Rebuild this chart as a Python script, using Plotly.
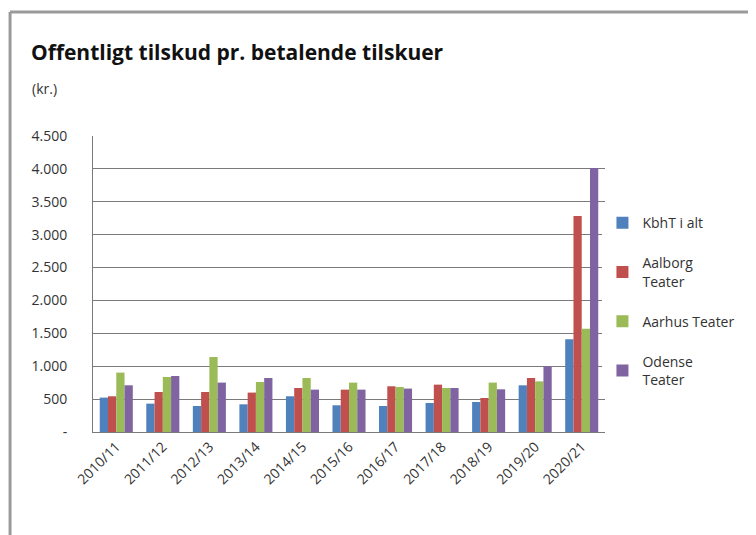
import plotly.graph_objects as go

# Sæsoner
seasons = ["2010/11", "2011/12", "2012/13", "2013/14", "2014/15", "2015/16",
           "2016/17", "2017/18", "2018/19", "2019/20", "2020/21"]

# Offentligt tilskud pr. betalende tilskuer (kr.)
kbht = [523, 431, 395, 421, 543, 406, 395, 441, 456, 710, 1409]
aalborg = [543, 608, 608, 599, 669, 644, 695, 720, 517, 821, 3283]
aarhus = [903, 836, 1140, 760, 821, 751, 684, 669, 751, 770, 1571]
odense = [710, 851, 751, 821, 644, 644, 660, 669, 649, 998, 4012]

series_names = ["KbhT i alt", "Aalborg<br>Teater", "Aarhus Teater", "Odense<br>Teater"]
series_colors = ["#4F81BD", "#C0504D", "#9BBB59", "#8064A2"]

y_ticks = [0, 500, 1000, 1500, 2000, 2500, 3000, 3500, 4000, 4500]
y_ticktext = ["-", "500", "1.000", "1.500", "2.000", "2.500", "3.000", "3.500", "4.000", "4.500"]

fig = go.Figure()
for i, (name, vals, col) in enumerate(zip(series_names, [kbht, aalborg, aarhus, odense], series_colors)):
    fig.add_trace(go.Bar(x=seasons, y=vals, name=name, marker_color=col,
                         marker_line_width=0, legendgroup=str(i)))

# ramme omkring diagrammet (kun top og venstre synlig)
fig.add_shape(type="line", xref="paper", yref="paper", x0=-0.162, x1=1.3,
              y0=1.419, y1=1.419, line=dict(color="#9a9a9a", width=3))
fig.add_shape(type="line", xref="paper", yref="paper", x0=-0.162, x1=-0.162,
              y0=-0.5, y1=1.419, line=dict(color="#9a9a9a", width=3))

fig.add_annotation(text="<b>Offentligt tilskud pr. betalende tilskuer</b>", xref="paper", yref="paper",
                   x=-0.125, y=1.284, xanchor="left", yanchor="middle", showarrow=False,
                   font=dict(family="Open Sans", size=21, color="#111111"))
fig.add_annotation(text="(kr.)", xref="paper", yref="paper",
                   x=-0.123, y=1.162, xanchor="left", yanchor="middle", showarrow=False,
                   font=dict(size=14, color="#333333"))

# sidens body-margin er 8px, så figuren gøres 8px mindre
fig.update_layout(
    width=748, height=527,
    margin=dict(l=85, r=151, t=128, b=103),
    plot_bgcolor="white", paper_bgcolor="white",
    font=dict(family="Open Sans, sans-serif", size=14, color="#333333"),
    barmode="group", bargap=0.29, bargroupgap=0,
    showlegend=True,
    legend=dict(x=0.995, y=0.76, xanchor="left", yanchor="top", tracegroupgap=19,
                font=dict(size=14, color="#333333"), itemwidth=30),
    xaxis=dict(tickangle=-45, showline=True, linecolor="#7a7a7a", linewidth=1,
               ticks="", tickfont=dict(size=14)),
    yaxis=dict(range=[0, 4500], tickvals=y_ticks, ticktext=y_ticktext,
               showgrid=True, gridcolor="#7a7a7a", gridwidth=1,
               showline=True, linecolor="#7a7a7a", linewidth=1,
               ticks="", zeroline=False, tickfont=dict(size=14), ticklabelstandoff=22),
)

fig.write_html("out.html")
